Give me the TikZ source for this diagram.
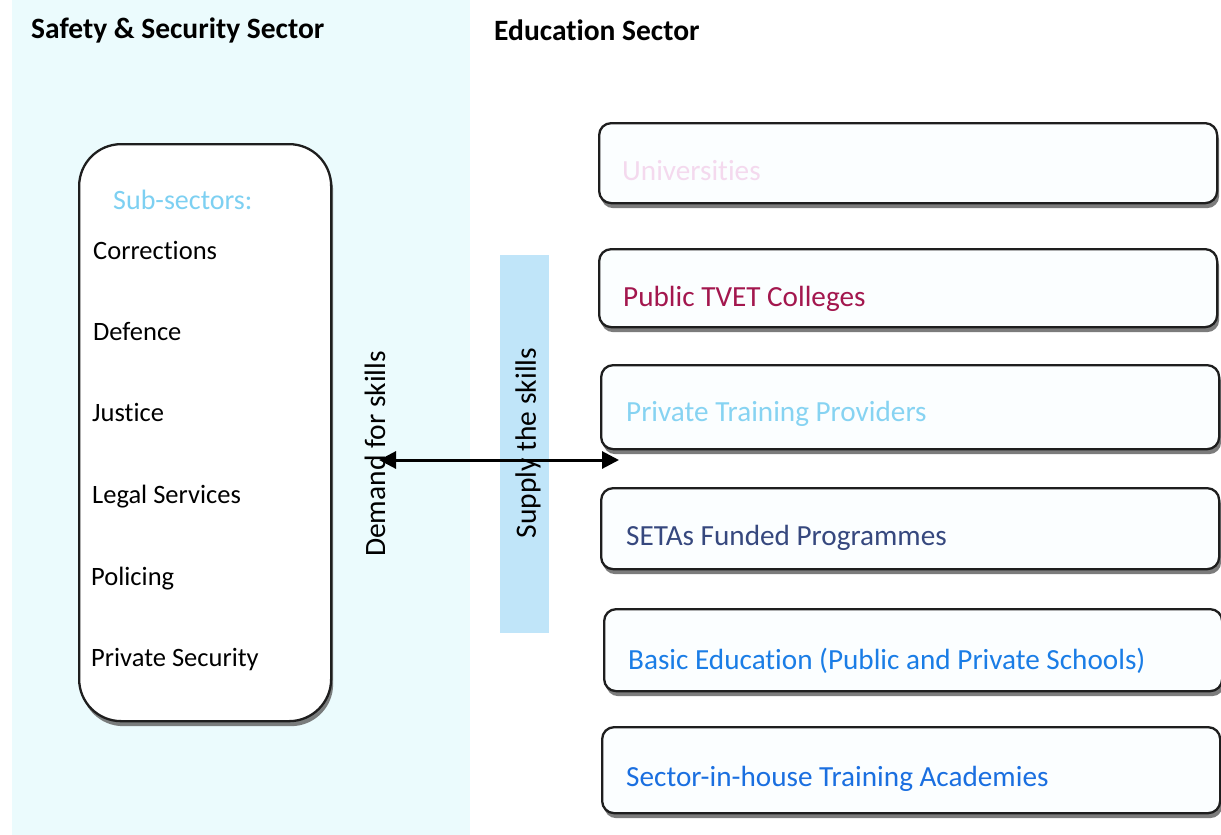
\documentclass[tikz,border=0pt]{standalone}
\usepackage{fontspec}
\setmainfont{Carlito}[Ligatures=NoCommon]
\usetikzlibrary{arrows.meta,shadows}

\definecolor{panelbg}{HTML}{EBFBFD}
\definecolor{stripblue}{HTML}{C0E5F9}
\definecolor{boxline}{HTML}{1E1E1E}
\definecolor{boxfill}{HTML}{FBFEFF}
\definecolor{subsec}{HTML}{7DD0F2}
\definecolor{uni}{HTML}{F4D9EE}
\definecolor{tvet}{HTML}{A3174E}
\definecolor{ptp}{HTML}{86D3F2}
\definecolor{seta}{HTML}{36487E}
\definecolor{basic}{HTML}{1A7DE6}
\definecolor{academy}{HTML}{1A6FE0}

\tikzset{
  heading/.style={font=\fontsize{29.5}{34}\selectfont\bfseries, anchor=base west, inner sep=0pt},
  subitem/.style={font=\fontsize{26.5}{30}\selectfont, anchor=base west, inner sep=0pt},
  edulabel/.style={font=\fontsize{29.2}{33}\selectfont, anchor=base west, inner sep=0pt},
  sidelabel/.style={font=\fontsize{29.5}{34}\selectfont, rotate=90, inner sep=0pt},
  shadowed/.style={drop shadow={shadow xshift=2pt, shadow yshift=-5pt, fill=black!60, opacity=0.85}},
  edubox/.style={draw=boxline, line width=2.3pt, fill=boxfill, rounded corners=12pt,
    minimum width=618pt, minimum height=80pt, anchor=north west, inner sep=0pt, shadowed},
  sectorbox/.style={draw=boxline, line width=2.3pt, fill=white, rounded corners=42pt,
    minimum width=252pt, minimum height=577pt, anchor=north west, inner sep=0pt, shadowed},
  link/.style={line width=3pt, black, {Triangle[length=17pt,width=17pt]}-{Triangle[length=17pt,width=17pt]}}
}

\begin{document}
\begin{tikzpicture}[x=1pt,y=-1pt]
\useasboundingbox (0,0) rectangle (1221,835);
\fill[white] (0,0) rectangle (1221,835);

% tinted panel behind the safety & security side
\fill[panelbg] (12,0) rectangle (470,835);
% band behind the supply label
\fill[stripblue] (500,255) rectangle (549,633);

% headings
\node[heading] (hsafety) at (31,38) {Safety \& Security Sector};
\node[heading] (heducation) at (494,40) {Education Sector};

% demand side: the sub-sector box
\node[sectorbox] (sector) at (78,143) {};
\node[subitem, text=subsec, font=\fontsize{28}{32}\selectfont] (subhead) at (113,209) {Sub-sectors:};
\node[subitem] (corr) at (93,259) {Corrections};
\node[subitem] (def) at (93,340) {Defence};
\node[subitem] (just) at (92,421) {Justice};
\node[subitem] (legal) at (92,503) {Legal Services};
\node[subitem] (pol) at (91,585) {Policing};
\node[subitem] (privsec) at (91,666) {Private Security};

% supply side: education providers
\node[edubox] (univ) at (598,122) {};
\node[edulabel, text=uni] (univtxt) at (622,180) {Universities};

\node[edubox, minimum height=78pt] (tvet) at (598,248) {};
\node[edulabel, text=tvet] (tvettxt) at (623,306) {Public TVET Colleges};

\node[edubox, minimum height=84pt] (ptp) at (600,364) {};
\node[edulabel, text=ptp] (ptptxt) at (626,421) {Private Training Providers};

\node[edubox, minimum height=81pt] (seta) at (600,487) {};
\node[edulabel, text=seta] (setatxt) at (626,545) {SETAs Funded Programmes};

\node[edubox, minimum height=82pt] (basic) at (603,608) {};
\node[edulabel, text=basic] (basictxt) at (628,669) {Basic Education (Public and Private Schools)};

\node[edubox, minimum height=86pt] (acad) at (601,726) {};
\node[edulabel, text=academy] (acadtxt) at (626,786) {Sector-in-house Training Academies};

% demand / supply labels and the link between them
\node[sidelabel] (demand) at (375,454) {Demand for skills};
\node[sidelabel] (supply) at (528,443) {Supply the skills};

\coordinate (demandend) at (379,460);
\coordinate (supplyend) at (619,460);
\draw[link] (demandend) -- (supplyend);
\end{tikzpicture}
\end{document}
